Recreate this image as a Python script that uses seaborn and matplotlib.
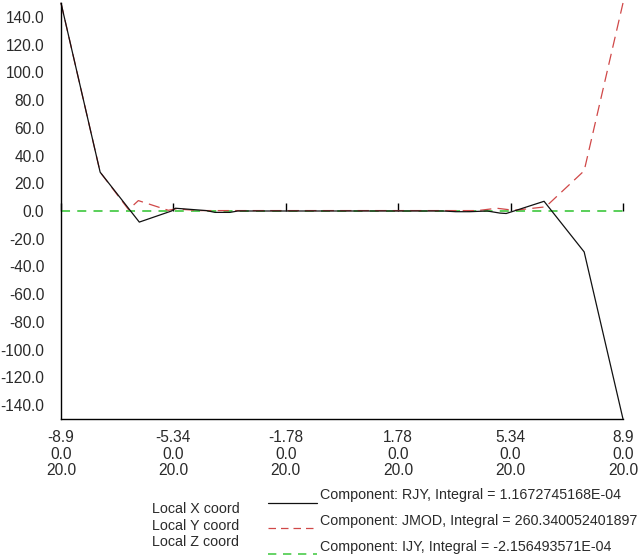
import matplotlib
matplotlib.use("Agg")
import matplotlib.pyplot as plt
from matplotlib.lines import Line2D
import numpy as np
import pandas as pd
import seaborn as sns

sns.set_style("white")
plt.rcParams['font.family'] = ['Liberation Sans', 'DejaVu Sans']

# Component RJY (black, solid)
x_rjy = [-8.9, -7.66, -6.42, -5.4, -5.28, -4.3, -4.02, -3.55, -3.3,
         3.2, 3.6, 4.05, 4.6, 5.0, 5.2, 5.45, 6.4, 7.67, 8.9]
rjy = [150, 28, -8, 0, 2, 0.3, -1, -1, 0,
       0, -0.5, -0.5, 0, -1.5, -1.8, 0, 7, -29.5, -150]

# Component JMOD (red, dashed)
x_jmod = [-8.9, -7.66, -6.76, -6.45, -5.5, -5.28, -4.5,
          4.3, 4.9, 5.45, 6.45, 7.67, 8.9]
jmod = [150, 28, 1, 7.5, 0.5, 1.5, 0.3,
        0.3, 2, 0.5, 3, 29, 150]

# Component IJY (green, dashed)
x_ijy = [-8.9, 8.9]
ijy = [0, 0]

# tick values / labels
x_ticks = [-8.9, -5.34, -1.78, 1.78, 5.34, 8.9]
x_coord = ["-8.9", "-5.34", "-1.78", "1.78", "5.34", "8.9"]
y_coord = ["0.0", "0.0", "0.0", "0.0", "0.0", "0.0"]
z_coord = ["20.0", "20.0", "20.0", "20.0", "20.0", "20.0"]
y_ticks = [140, 120, 100, 80, 60, 40, 20, 0, -20, -40, -60, -80, -100, -120, -140]

legend_labels = ["Component: RJY, Integral = 1.1672745168E-04",
                 "Component: JMOD, Integral = 260.340052401897",
                 "Component: IJY, Integral = -2.156493571E-04"]
coord_labels = ["Local X coord", "Local Y coord", "Local Z coord"]

black = "#111111"
red = "#d04848"
green = "#4ccc4c"
txt = "#2a2a2a"

fig = plt.figure(figsize=(6.44, 5.57), dpi=100)
ax = fig.add_axes([61 / 644, 1 - 419 / 557, 562 / 644, 416 / 557])

df_rjy = pd.DataFrame({"x": x_rjy, "y": rjy})
df_jmod = pd.DataFrame({"x": x_jmod, "y": jmod})
df_ijy = pd.DataFrame({"x": x_ijy, "y": ijy})

sns.lineplot(data=df_ijy, x="x", y="y", ax=ax, color=green, lw=1.3,
             linestyle=(0, (5, 4)), sort=False, estimator=None, clip_on=False)
sns.lineplot(data=df_jmod, x="x", y="y", ax=ax, color=red, lw=0.9,
             linestyle=(0, (9, 5)), sort=False, estimator=None, clip_on=False)
sns.lineplot(data=df_rjy, x="x", y="y", ax=ax, color=black, lw=0.9,
             sort=False, estimator=None, clip_on=False)

ax.set_xlim(-8.9, 8.9)
ax.set_ylim(-150, 150)
ax.set_xlabel("")
ax.set_ylabel("")

ax.set_yticks(y_ticks)
ax.set_yticklabels([f"{v:.1f}" for v in y_ticks])
ax.set_xticks(x_ticks)
ax.set_xticklabels([f"{a}\n{b}\n{c}" for a, b, c in zip(x_coord, y_coord, z_coord)],
                   linespacing=1.12)

ax.tick_params(axis="y", direction="in", length=7, width=1, color="black",
               pad=12, labelsize=11.2, labelcolor=txt)
ax.tick_params(axis="x", direction="in", length=6, width=1, color="black",
               pad=8, labelsize=11.2, labelcolor=txt)

for s in ["top", "right"]:
    ax.spines[s].set_visible(False)
for s in ["left", "bottom"]:
    ax.spines[s].set_color("black")
    ax.spines[s].set_linewidth(1)

# ticks along the zero line, pointing up
zero_pos = (0 - (-150)) / 300
sec = ax.secondary_xaxis(zero_pos)
sec.set_xticks(x_ticks)
sec.set_xticklabels([])
sec.tick_params(axis="x", direction="out", length=6, width=1, color="black")
sec.spines["top"].set_visible(False)
sec.spines["bottom"].set_visible(False)

# legend below the plot
for i, lab in enumerate(coord_labels):
    fig.text(152 / 644, 1 - (509 + 16.5 * i) / 557, lab, fontsize=10.3,
             color=txt, ha="left", va="center")

line_y = [503, 528, 554]
line_styles = [(black, "-"), (red, (0, (6, 4))), (green, (0, (5, 4)))]
for (c, ls), yy in zip(line_styles, line_y):
    fig.add_artist(Line2D([268 / 644, 317 / 644], [1 - yy / 557, 1 - yy / 557],
                          color=c, linestyle=ls, lw=1.2 if c == green else 0.9,
                          transform=fig.transFigure))

text_y = [495, 521, 547]
for lab, yy in zip(legend_labels, text_y):
    fig.text(320 / 644, 1 - yy / 557, lab, fontsize=10.3, color=txt,
             ha="left", va="center")

fig.savefig("out.png", dpi=100)
